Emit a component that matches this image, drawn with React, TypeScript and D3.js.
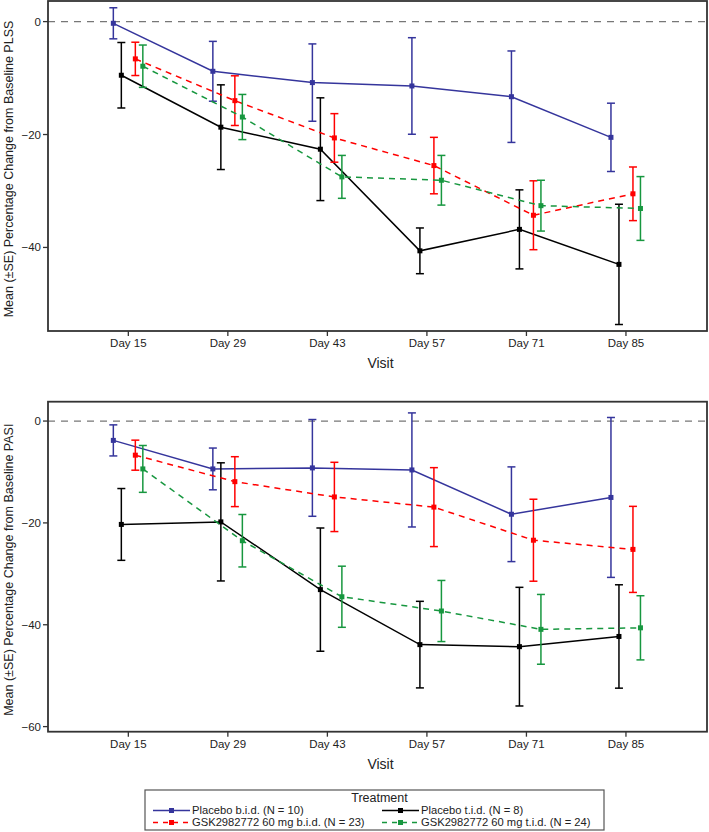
import React from 'react';
import * as d3 from 'd3';

// visits
const visits = ['Day 15', 'Day 29', 'Day 43', 'Day 57', 'Day 71', 'Day 85'];
const visitDays = [15, 29, 43, 57, 71, 85];

// PLSS panel (mean, SE)
const plssPlaceboBid = [-0.3, -8.8, -10.8, -11.4, -13.3, -20.5];
const plssPlaceboBidSE = [2.75, 5.3, 6.85, 8.55, 8.1, 6.05];
const plssPlaceboTid = [-9.5, -18.7, -22.6, -40.6, -36.8, -43.0];
const plssPlaceboTidSE = [5.8, 7.5, 9.1, 4.05, 7.0, 10.65];
const plssGskBid = [-6.6, -14.0, -20.6, -25.5, -34.3, -30.5];
const plssGskBidSE = [2.95, 4.4, 4.3, 5.0, 6.1, 4.75];
const plssGskTid = [-7.9, -16.9, -27.5, -28.1, -32.6, -33.1];
const plssGskTidSE = [3.75, 4.0, 3.8, 4.4, 4.5, 5.65];

// PASI panel (mean, SE)
const pasiPlaceboBid = [-3.8, -9.4, -9.2, -9.6, -18.3, -15.0];
const pasiPlaceboBidSE = [3.05, 4.1, 9.5, 11.2, 9.3, 15.7];
const pasiPlaceboTid = [-20.3, -19.8, -33.1, -43.9, -44.3, -42.3];
const pasiPlaceboTidSE = [7.05, 11.6, 12.1, 8.5, 11.65, 10.15];
const pasiGskBid = [-6.7, -11.9, -14.9, -16.9, -23.4, -25.2];
const pasiGskBidSE = [2.95, 4.9, 6.8, 7.75, 8.05, 8.45];
const pasiGskTid = [-9.4, -23.5, -34.5, -37.3, -40.9, -40.6];
const pasiGskTidSE = [4.6, 5.15, 6.0, 6.0, 6.85, 6.3];

const plssTicks = [0, -20, -40];
const pasiTicks = [0, -20, -40, -60];

const groups = [
  { name: 'Placebo b.i.d. (N = 10)', color: '#35359c', dash: null, dx: -15 },
  { name: 'Placebo t.i.d. (N = 8)', color: '#000000', dash: null, dx: -7 },
  { name: 'GSK2982772 60 mg b.i.d. (N = 23)', color: '#ff0000', dash: '6,5', dx: 7 },
  { name: 'GSK2982772 60 mg t.i.d. (N = 24)', color: '#17973f', dash: '6,5', dx: 14.5 },
];

const FONT = 'Liberation Sans, Arial, sans-serif';
const LEFT = 48;
const RIGHT = 707;

const x = d3.scaleLinear().domain([3.7, 96.4]).range([LEFT, RIGHT]);

const Panel = ({ top, bottom, domain, ticks, means, ses, title }) => {
  const y = d3.scaleLinear().domain(domain).range([bottom, top]);
  const line = d3.line().x(d => d[0]).y(d => d[1]);
  return (
    <g>
      {/* zero reference */}
      <line x1={LEFT} x2={RIGHT} y1={y(0)} y2={y(0)} stroke="#777" strokeWidth={1.3} strokeDasharray="7,6" />
      {groups.map((g, gi) => {
        const pts = visitDays.map((d, i) => [x(d) + g.dx, y(means[gi][i])]);
        return (
          <g key={gi}>
            <path d={line(pts)} fill="none" stroke={g.color} strokeWidth={1.5}
              strokeDasharray={g.dash || undefined} />
            {visitDays.map((d, i) => {
              const cx = x(d) + g.dx;
              const hi = y(means[gi][i] + ses[gi][i]);
              const lo = y(means[gi][i] - ses[gi][i]);
              return (
                <g key={i} stroke={g.color} strokeWidth={1.5}>
                  <line x1={cx} x2={cx} y1={hi} y2={lo} />
                  <line x1={cx - 4} x2={cx + 4} y1={hi} y2={hi} />
                  <line x1={cx - 4} x2={cx + 4} y1={lo} y2={lo} />
                  <rect x={cx - 2.5} y={y(means[gi][i]) - 2.5} width={5} height={5} fill={g.color} stroke="none" />
                </g>
              );
            })}
          </g>
        );
      })}
      <rect x={LEFT} y={top} width={RIGHT - LEFT} height={bottom - top} fill="none" stroke="#333" strokeWidth={1.8} />
      {ticks.map(t => (
        <g key={t}>
          <line x1={LEFT - 5} x2={LEFT} y1={y(t)} y2={y(t)} stroke="#333" strokeWidth={1.3} />
          <text x={LEFT - 7} y={y(t)} dy="0.35em" textAnchor="end" fontSize={11.5} fontFamily={FONT} fill="#222">
            {t < 0 ? '\u2212' + Math.abs(t) : t}
          </text>
        </g>
      ))}
      {visitDays.map((d, i) => (
        <g key={d}>
          <line x1={x(d)} x2={x(d)} y1={bottom} y2={bottom + 5} stroke="#333" strokeWidth={1.3} />
          <text x={x(d)} y={bottom + 16} textAnchor="middle" fontSize={11.5} fontFamily={FONT} fill="#222">
            {visits[i]}
          </text>
        </g>
      ))}
      <text x={(LEFT + RIGHT) / 2 + 3} y={bottom + 37} textAnchor="middle" fontSize={14} fontFamily={FONT} fill="#222">Visit</text>
      <text transform={`translate(13,${(top + bottom) / 2 + 3}) rotate(-90)`} textAnchor="middle" fontSize={12.5}
        fontFamily={FONT} fill="#222">{title}</text>
    </g>
  );
};

const Legend = () => {
  const lx = 145, ly = 790, lw = 459, lh = 40;
  const cols = [153, 382];
  const rows = [810.5, 822.5];
  return (
    <g fontFamily={FONT}>
      <rect x={lx} y={ly} width={lw} height={lh} fill="none" stroke="#555" strokeWidth={1.2} />
      <text x={lx + lw / 2 + 5} y={801.5} textAnchor="middle" fontSize={12.5} fill="#222">Treatment</text>
      {groups.map((g, i) => {
        const cx = cols[i % 2];
        const cy = rows[Math.floor(i / 2)];
        return (
          <g key={i}>
            <line x1={cx} x2={cx + 37} y1={cy} y2={cy} stroke={g.color} strokeWidth={1.5} strokeDasharray={g.dash ? '5,5' : undefined} />
            <rect x={cx + 16} y={cy - 2.5} width={5} height={5} fill={g.color} />
            <text x={cx + 39} y={cy} dy="0.35em" fontSize={11.2} fill="#222">{g.name}</text>
          </g>
        );
      })}
    </g>
  );
};

const App = () => {
  return (
    <svg width={709} height={832} style={{ position: 'absolute', left: 0, top: 0, background: '#fff' }}>
      <Panel top={1} bottom={331} domain={[-54.8, 3.65]} ticks={plssTicks}
        means={[plssPlaceboBid, plssPlaceboTid, plssGskBid, plssGskTid]}
        ses={[plssPlaceboBidSE, plssPlaceboTidSE, plssGskBidSE, plssGskTidSE]}
        title="Mean (±SE) Percentage Change from Baseline PLSS" />
      <Panel top={401.7} bottom={731.7} domain={[-61.0, 3.8]} ticks={pasiTicks}
        means={[pasiPlaceboBid, pasiPlaceboTid, pasiGskBid, pasiGskTid]}
        ses={[pasiPlaceboBidSE, pasiPlaceboTidSE, pasiGskBidSE, pasiGskTidSE]}
        title="Mean (±SE) Percentage Change from Baseline PASI" />
      <Legend />
    </svg>
  );
};

export default App;
